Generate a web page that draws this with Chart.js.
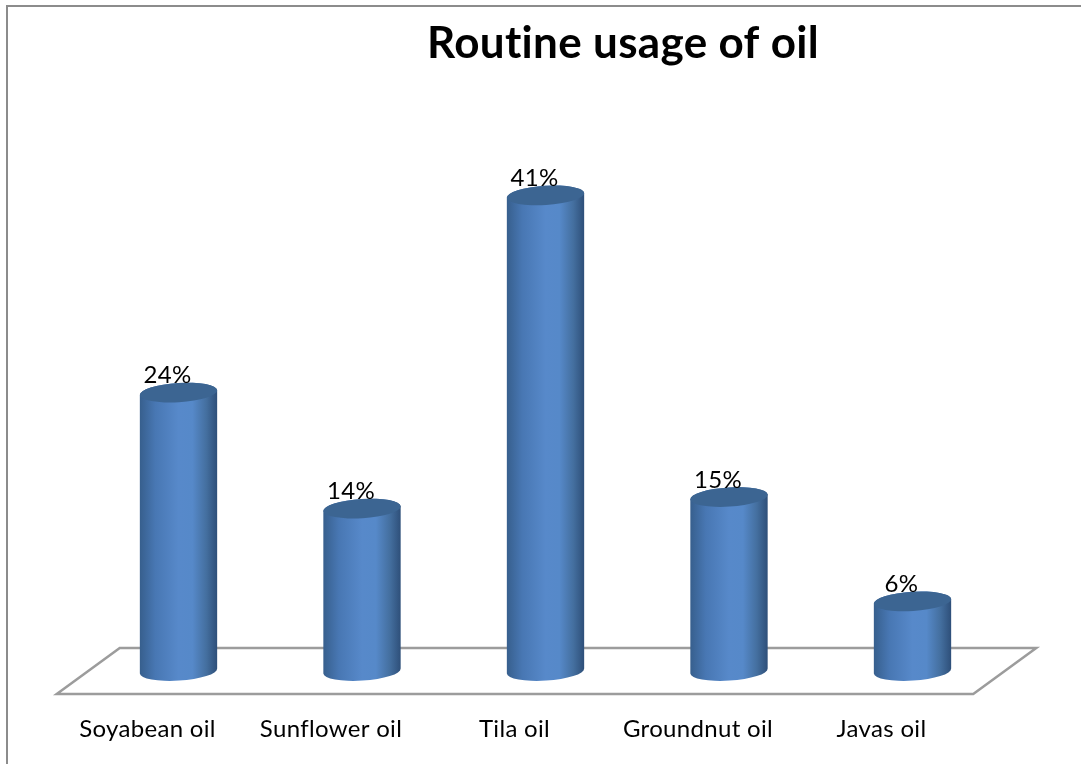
<!DOCTYPE html>
<html>
<head>
<meta charset="utf-8">
<title>Routine usage of oil</title>
<style>
  html, body { margin: 0; padding: 0; background: #ffffff; overflow: hidden; }
  canvas { display: block; }
</style>
<script src="https://cdn.jsdelivr.net/npm/chart.js@4"></script>
</head>
<body>
<canvas id="chart" width="1081" height="764"></canvas>
<script>
const chartTitle = 'Routine usage of oil';
const oils = ['Soyabean oil', 'Sunflower oil', 'Tila oil', 'Groundnut oil', 'Javas oil'];
const usagePercent = [24, 14, 41, 15, 6];

const FONT = 'Lato, "Open Sans", sans-serif';

// Page frame: only the top and left rules are drawn.
const framePlugin = {
  id: 'frame',
  beforeDraw(chart) {
    const { ctx, width, height } = chart;
    // A little tracking keeps letter pairs such as "ti" and "fl" unligated.
    ctx.letterSpacing = '0.32px';
    ctx.save();
    ctx.fillStyle = '#ffffff';
    ctx.fillRect(0, 0, width, height);
    ctx.fillStyle = '#8c8c8c';
    ctx.fillRect(6, 5, width - 6, 2);
    ctx.fillRect(6, 5, 2, height - 5);
    ctx.restore();
  }
};

// Perspective floor under the columns, placed relative to the plot area.
const floorPlugin = {
  id: 'floor',
  beforeDatasetsDraw(chart) {
    const { ctx, chartArea: a } = chart;
    ctx.save();
    ctx.strokeStyle = '#9c9c9c';
    ctx.lineWidth = 2.5;
    ctx.lineJoin = 'miter';
    ctx.beginPath();
    ctx.moveTo(a.left - 30, a.bottom + 23);
    ctx.lineTo(a.right - 31, a.bottom + 23);
    ctx.lineTo(a.right + 32, a.bottom - 23);
    ctx.lineTo(a.left + 33, a.bottom - 23);
    ctx.closePath();
    ctx.stroke();
    ctx.restore();
  }
};

// Turns each bar element into a shaded cylinder with a tilted elliptical cap.
const cylinderPlugin = {
  id: 'cylinder',
  afterDatasetsDraw(chart) {
    const { ctx } = chart;
    const tilt = -3.6 * Math.PI / 180;
    chart.getDatasetMeta(0).data.forEach((bar) => {
      const rx = bar.width / 2 + 0.2;
      const ry = 9.6;
      const left = bar.x - rx;
      const body = ctx.createLinearGradient(left, 0, left + 2 * rx, 0);
      body.addColorStop(0, '#375f8d');
      body.addColorStop(0.2, '#4877b3');
      body.addColorStop(0.5, '#5789ca');
      body.addColorStop(0.68, '#5689c9');
      body.addColorStop(0.86, '#446f9f');
      body.addColorStop(1, '#2e4f79');

      ctx.save();
      ctx.beginPath();
      ctx.ellipse(bar.x, bar.base, rx, ry, tilt, 0, Math.PI);
      ctx.ellipse(bar.x, bar.y, rx, ry, tilt, Math.PI, 2 * Math.PI);
      ctx.closePath();
      ctx.fillStyle = body;
      ctx.fill();

      ctx.beginPath();
      ctx.ellipse(bar.x, bar.y, rx, ry, tilt, 0, 2 * Math.PI);
      ctx.fillStyle = '#3c6592';
      ctx.fill();
      ctx.restore();
    });
  }
};

// Percentage captions sit just above the caps, slightly left of centre.
const valueLabelPlugin = {
  id: 'valueLabels',
  afterDatasetsDraw(chart) {
    const { ctx } = chart;
    ctx.save();
    ctx.font = '24px ' + FONT;
    ctx.fillStyle = '#000000';
    ctx.textAlign = 'center';
    ctx.textBaseline = 'middle';
    chart.getDatasetMeta(0).data.forEach((bar, i) => {
      ctx.fillText(usagePercent[i] + '%', bar.x - 11, bar.y - 17);
    });
    ctx.restore();
  }
};

// Heading is centred over the right-hand part of the page.
const headingPlugin = {
  id: 'heading',
  afterDraw(chart) {
    const { ctx } = chart;
    ctx.save();
    ctx.font = 'bold 44px ' + FONT;
    ctx.fillStyle = '#000000';
    ctx.textAlign = 'center';
    ctx.textBaseline = 'middle';
    ctx.fillText(chartTitle, 623, 44);
    ctx.restore();
  }
};

new Chart(document.getElementById('chart'), {
  type: 'bar',
  data: {
    labels: oils,
    datasets: [{
      label: chartTitle,
      data: usagePercent,
      backgroundColor: 'rgba(0,0,0,0)',
      borderWidth: 0,
      categoryPercentage: 1,
      barPercentage: 0.42
    }]
  },
  options: {
    responsive: false,
    animation: false,
    layout: { padding: { left: 86.75, right: 76.75, top: 91, bottom: 0 } },
    plugins: { legend: { display: false }, tooltip: { enabled: false }, title: { display: false } },
    scales: {
      y: { display: false, min: 0, max: 50 },
      x: {
        grid: { display: false, drawTicks: false },
        border: { display: false },
        afterFit(scale) { scale.height = 93; },
        ticks: {
          autoSkip: false,
          maxRotation: 0,
          padding: 44,
          labelOffset: -31,
          color: '#000000',
          font: { family: FONT, size: 24 }
        }
      }
    }
  },
  plugins: [framePlugin, floorPlugin, cylinderPlugin, valueLabelPlugin, headingPlugin]
});
</script>
</body>
</html>
